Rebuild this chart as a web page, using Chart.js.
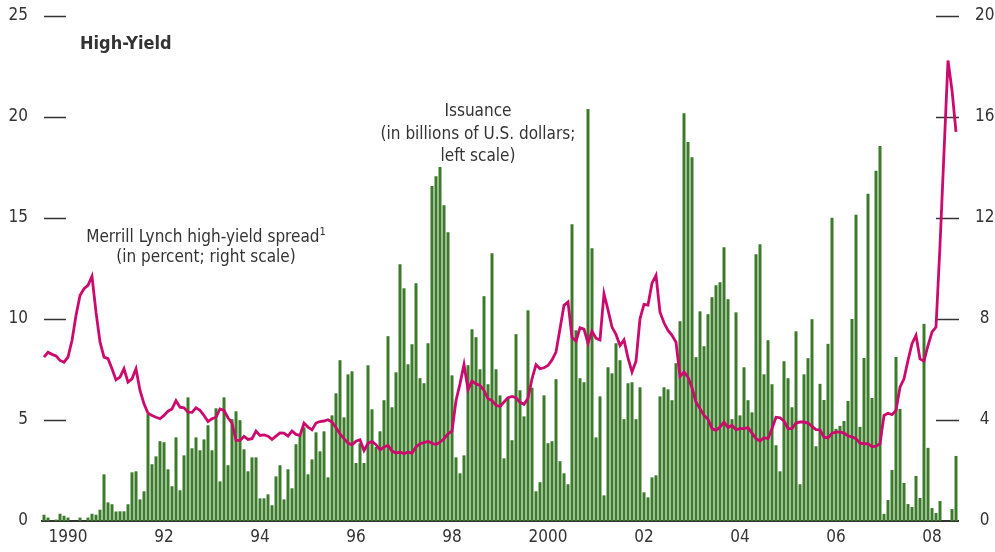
<!DOCTYPE html>
<html>
<head>
<meta charset="utf-8">
<script src="https://cdn.jsdelivr.net/npm/chart.js@4.4.0/dist/chart.umd.min.js"></script>
<style>
  html, body { margin: 0; padding: 0; background: #fff; }
  #wrap { position: relative; width: 995px; height: 552px; }
  .nota {
    position: absolute;
    font-family: 'Liberation Sans Narrow', 'Arial Narrow', 'DejaVu Sans Condensed', Roboto, sans-serif;
    font-size: 17px;
    color: #333;
    text-align: center;
    white-space: nowrap;
  }
  .nota sup { font-size: 11px; line-height: 0; vertical-align: 7px; }
</style>
</head>
<body>
<div id="wrap">
  <canvas id="grafico" width="995" height="552"></canvas>
  <div class="nota" style="left:80px; top:32px; font-weight:bold; font-size:18px; line-height:22px;">High-Yield</div>
  <div class="nota" style="left:478px; top:99px; transform:translateX(-50%); line-height:22.5px;">Issuance<br>(in billions of U.S. dollars;<br>left scale)</div>
  <div class="nota" style="left:206px; top:226px; transform:translateX(-50%); line-height:20px;">Merrill Lynch high-yield spread<sup>1</sup><br>(in percent; right scale)</div>
</div>
<script>
// Dados mensais, jan 1990 - jan 2009
const anos = [1990, 1991, 1992, 1993, 1994, 1995, 1996, 1997, 1998, 1999, 2000, 2001, 2002, 2003, 2004, 2005, 2006, 2007, 2008, 2009];
const rotulosAnos = ['1990', '92', '94', '96', '98', '2000', '02', '04', '06', '08'];

// emissões (bilhões de US$, escala esquerda)
const emissao = [
  0.31, 0.17, 0, 0.07, 0.36, 0.26, 0.17, 0, 0, 0.17, 0, 0.17,            // 1990
  0.36, 0.31, 0.56, 2.31, 0.92, 0.83, 0.47, 0.48, 0.48, 0.83, 2.41, 2.46,  // 1991
  1.07, 1.47, 5.28, 2.81, 3.2, 3.95, 3.9, 2.56, 1.72, 4.14, 1.52, 3.25,    // 1992
  6.12, 3.6, 4.14, 3.5, 4.04, 4.74, 3.5, 5.58, 1.96, 6.12, 2.76, 5.04,     // 1993
  5.43, 4.99, 3.55, 2.46, 3.15, 3.15, 1.12, 1.12, 1.32, 0.78, 2.21, 2.76,  // 1994
  1.07, 2.56, 1.62, 3.8, 4.29, 4.64, 2.31, 3.05, 4.39, 3.45, 4.44, 2.16,   // 1995
  5.23, 6.32, 7.96, 5.13, 7.26, 7.41, 2.87, 3.85, 2.87, 7.71, 5.53, 3.67,  // 1996
  4.44, 5.98, 9.15, 5.63, 7.36, 12.71, 11.52, 7.76, 8.75, 11.77, 7.07, 6.82, // 1997
  8.8, 16.58, 17.07, 17.52, 15.63, 14.3, 7.21, 3.15, 2.36, 3.25, 7.71, 9.49, // 1998
  9.1, 7.51, 11.13, 6.77, 13.26, 7.51, 6.22, 3.1, 6.1, 4.0, 9.25, 6.47,    // 1999
  5.18, 10.43, 6.6, 1.47, 1.92, 6.22, 3.85, 3.95, 7.02, 2.96, 2.36, 1.82,  // 2000
  14.69, 9.44, 7.07, 6.87, 20.39, 13.5, 4.14, 6.17, 1.27, 7.61, 7.31, 8.8, // 2001
  7.96, 5.04, 6.82, 6.87, 5.04, 6.62, 1.42, 1.17, 2.16, 2.26, 6.17, 6.62,  // 2002
  6.52, 5.98, 7.81, 9.89, 20.19, 18.76, 18.01, 8.11, 10.38, 8.65, 10.24, 11.08, // 2003
  11.67, 11.82, 13.55, 10.98, 5.04, 10.33, 5.23, 7.61, 5.98, 5.38, 13.21, 13.7, // 2004
  7.26, 8.95, 6.77, 3.75, 2.46, 7.91, 7.07, 5.63, 9.39, 1.82, 7.26, 8.06,  // 2005
  9.99, 3.7, 6.79, 5.99, 8.77, 15.01, 4.56, 4.71, 4.95, 5.94, 10.0, 15.16, // 2006
  4.66, 8.07, 16.2, 6.09, 17.34, 18.57, 0.35, 1.04, 2.53, 8.12, 5.55, 1.88, // 2007
  0.84, 0.69, 2.23, 1.14, 9.76, 3.62, 0.64, 0.4, 0.99, 0, 0, 0.59,         // 2008
  3.22                                                                      // 2009
];

// spread Merrill Lynch (%, escala direita)
const spread = [
  6.49, 6.68, 6.6, 6.54, 6.36, 6.29, 6.49, 7.15, 8.14, 8.93, 9.2, 9.33,
  9.69, 8.27, 7.09, 6.49, 6.43, 6.03, 5.59, 5.7, 6.03, 5.5, 5.63, 6.03,
  5.17, 4.64, 4.27, 4.18, 4.11, 4.05, 4.18, 4.35, 4.44, 4.77, 4.51, 4.48,
  4.31, 4.3, 4.48, 4.38, 4.18, 3.94, 4.05, 4.11, 4.44, 4.38, 4.09, 3.88,
  3.19, 3.19, 3.35, 3.23, 3.26, 3.56, 3.39, 3.41, 3.36, 3.23, 3.36, 3.49,
  3.48, 3.36, 3.56, 3.43, 3.39, 3.88, 3.72, 3.61, 3.88, 3.94, 3.96, 4.01,
  3.92, 3.69, 3.45, 3.26, 3.09, 3.02, 3.16, 3.22, 2.79, 3.08, 3.15, 3.02,
  2.82, 2.93, 2.99, 2.77, 2.69, 2.73, 2.66, 2.73, 2.69, 2.93, 3.06, 3.1,
  3.16, 3.08, 3.03, 3.12, 3.26, 3.45, 3.56, 4.77, 5.43, 6.2, 5.2, 5.54,
  5.43, 5.37, 5.17, 4.84, 4.77, 4.58, 4.54, 4.71, 4.88, 4.93, 4.88, 4.7,
  4.62, 4.86, 5.63, 6.19, 6.03, 6.07, 6.16, 6.38, 6.69, 7.61, 8.54, 8.67,
  7.28, 7.12, 7.65, 7.6, 7.04, 7.52, 7.24, 7.17, 9.0, 8.36, 7.68, 7.39,
  6.95, 7.17, 6.46, 5.9, 6.33, 8.01, 8.58, 8.55, 9.42, 9.73, 8.27, 7.85,
  7.55, 7.35, 7.08, 5.72, 5.9, 5.7, 5.28, 4.71, 4.45, 4.18, 4.03, 3.66,
  3.59, 3.72, 3.92, 3.7, 3.79, 3.62, 3.66, 3.66, 3.7, 3.48, 3.26, 3.17,
  3.3, 3.26, 3.66, 4.11, 4.09, 3.96, 3.66, 3.66, 3.88, 3.92, 3.92, 3.88,
  3.75, 3.62, 3.61, 3.32, 3.29, 3.48, 3.52, 3.53, 3.48, 3.37, 3.33, 3.26,
  3.08, 3.06, 3.06, 2.94, 2.96, 3.06, 4.18, 4.27, 4.21, 4.38, 5.3, 5.63,
  6.36, 7.02, 7.35, 6.42, 6.33, 6.95, 7.48, 7.68, 10.9, 14.6, 18.24, 17.06,
  15.41
];

// rótulos mensais
const meses = [];
anos.forEach(a => {
  for (let m = 1; m <= 12; m++) meses.push(a + '-' + m);
});
meses.length = emissao.length;

const fonte = "'Liberation Sans Narrow', 'Arial Narrow', 'DejaVu Sans Condensed', Roboto, sans-serif";

// tracinhos dos eixos, dentro da área do gráfico
const marcas = {
  id: 'marcas',
  beforeDatasetsDraw(chart) {
    const { ctx, chartArea, scales } = chart;
    ctx.save();
    ctx.strokeStyle = '#333';
    ctx.lineWidth = 1.5;
    scales.y.ticks.forEach(t => {
      if (t.value === 0) return;
      const py = Math.round(scales.y.getPixelForValue(t.value)) + 0.5;
      ctx.beginPath();
      ctx.moveTo(chartArea.left + 2, py);
      ctx.lineTo(chartArea.left + 24, py);
      ctx.stroke();
    });
    scales.y1.ticks.forEach(t => {
      if (t.value === 0) return;
      const py = Math.round(scales.y1.getPixelForValue(t.value)) + 0.5;
      ctx.beginPath();
      ctx.moveTo(chartArea.right - 22, py);
      ctx.lineTo(chartArea.right + 1, py);
      ctx.stroke();
    });
    ctx.restore();
  }
};

const semPadding = s => { s.paddingTop = 0; s.paddingBottom = 0; };

const ctx = document.getElementById('grafico').getContext('2d');
const grafico = new Chart(ctx, {
  data: {
    labels: meses,
    datasets: [
      {
        type: 'line',
        label: 'Merrill Lynch high-yield spread',
        data: spread,
        yAxisID: 'y1',
        borderColor: '#cc0a6e',
        borderWidth: 2.8,
        pointRadius: 0,
        tension: 0,
        order: 0
      },
      {
        type: 'bar',
        label: 'Issuance',
        data: emissao,
        yAxisID: 'y',
        backgroundColor: '#3b7b2b',
        barPercentage: 0.75,
        categoryPercentage: 1,
        order: 1
      }
    ]
  },
  options: {
    responsive: false,
    animation: false,
    layout: { padding: { top: 16, left: 0, right: 0, bottom: 0 } },
    plugins: {
      legend: { display: false },
      tooltip: { enabled: false }
    },
    scales: {
      x: {
        grid: { display: false, drawTicks: false },
        border: { display: true, color: '#333', width: 2 },
        ticks: {
          autoSkip: false,
          maxRotation: 0,
          minRotation: 0,
          padding: 6,
          color: '#333',
          font: { family: fonte, size: 17 },
          callback: (v, i) => (i % 24 === 6) ? rotulosAnos[(i - 6) / 24] : ''
        },
        afterFit: s => { s.height = 31; }
      },
      y: {
        position: 'left',
        min: 0,
        max: 25,
        grid: { display: false, drawTicks: false },
        border: { display: false },
        ticks: { stepSize: 5, padding: 14, color: '#333', font: { family: fonte, size: 17 } },
        afterFit: s => { s.width = 42; semPadding(s); }
      },
      y1: {
        position: 'right',
        min: 0,
        max: 20,
        grid: { display: false, drawTicks: false },
        border: { display: false },
        ticks: { stepSize: 4, padding: 17, crossAlign: 'center', color: '#333', font: { family: fonte, size: 17 } },
        afterFit: s => { s.width = 37; semPadding(s); }
      }
    }
  },
  plugins: [marcas]
});
</script>
</body>
</html>
